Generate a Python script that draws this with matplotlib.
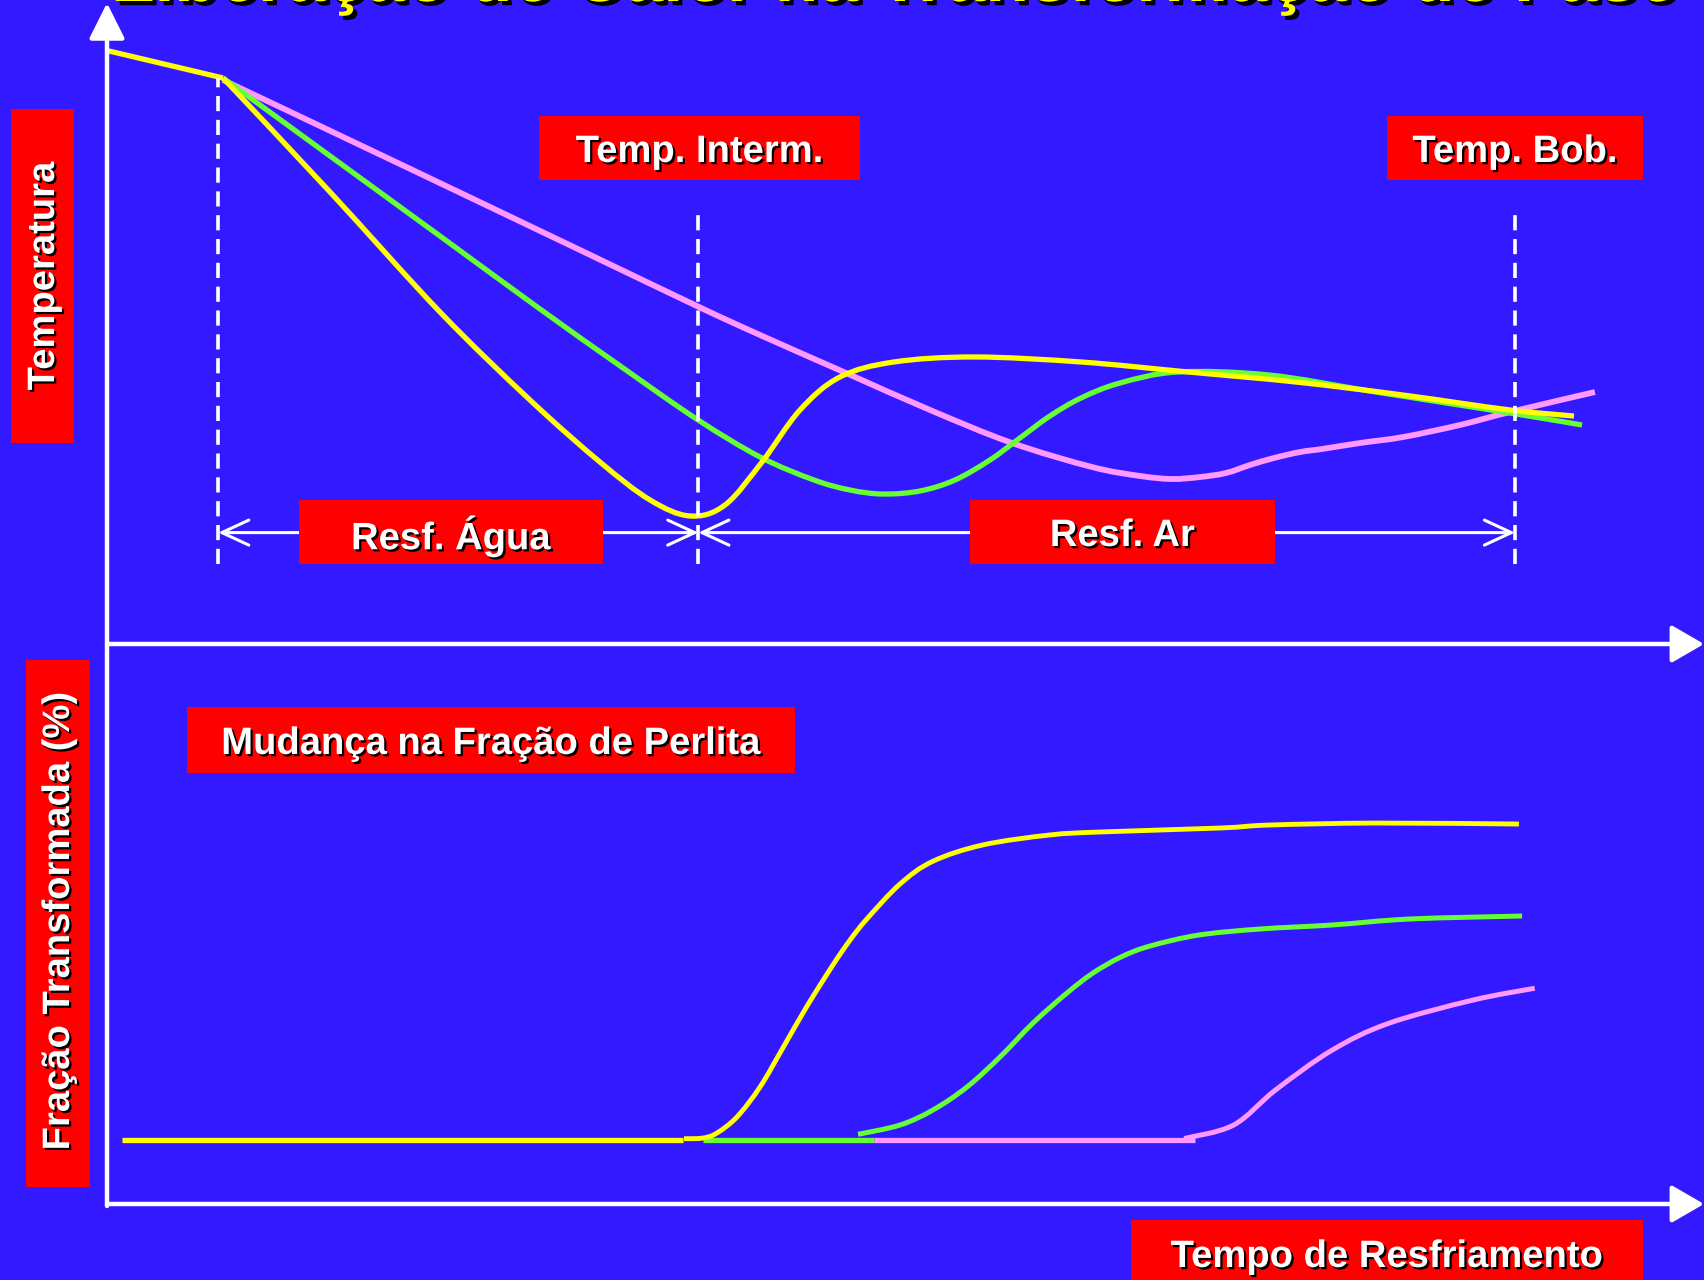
import numpy as np
import matplotlib
matplotlib.use("Agg")
import matplotlib.pyplot as plt
from matplotlib.path import Path
from matplotlib.patches import PathPatch, Rectangle
import matplotlib.patheffects as pe

# ---------------- data ----------------
# Upper panel: temperature (relative units) versus cooling time (relative units).
# The first yellow point is the common start before water cooling.
temp_yellow_t = [0.1, 8.24, 15.84, 23.65, 30.04, 35.01, 38.57, 41.41, 43.89, 46.52,
                 49.22, 52.06, 55.89, 61.58, 69.18, 76.78, 84.45, 92.05, 99.64, 104.19]
temp_yellow_T = [92.1, 87.89, 70.19, 51.55, 37.89, 28.26, 22.36, 19.88, 21.58, 28.26,
                 36.34, 41.46, 43.79, 44.57, 43.79, 42.24, 40.68, 38.66, 36.34, 35.40]

temp_green_t = [8.24, 15.84, 23.65, 30.75, 36.43, 41.90, 46.38, 50.21, 52.77, 55.11,
                57.74, 60.23, 62.71, 64.84, 66.97, 69.18, 71.95, 76.07, 82.53, 90.13,
                99.64, 104.76]
temp_green_T = [87.89, 75.78, 63.35, 52.02, 43.2, 34.9, 29.04, 25.47, 23.91, 23.29,
                23.76, 25.47, 28.57, 31.99, 35.40, 38.20, 40.53, 42.24, 41.77, 39.13,
                35.87, 34.01]

temp_pink_t = [8.24, 20.81, 33.59, 41.90, 46.38, 52.49, 58.45, 64.28, 69.96, 73.37,
               75.64, 77.63, 79.47, 81.18, 82.88, 84.73, 86.29, 88.99, 92.05, 96.09,
               99.64, 105.68]
temp_pink_T = [87.58, 74.53, 61.18, 52.48, 47.98, 42.08, 36.34, 31.21, 27.48, 26.09,
               25.62, 25.93, 26.55, 27.80, 28.88, 29.81, 30.28, 31.21, 32.14, 34.01,
               36.02, 39.13]

# Lower panel: transformed pearlite fraction (%) versus cooling time.
# Untransformed stretch (fraction 0) for each series: start and end times
base_yellow = [1.1, 40.9]
base_green = [42.35, 54.5]
base_pink = [54.5, 77.3]

frac_yellow_t = [40.98, 42.33, 43.32, 44.74, 46.38, 48.01, 49.72, 51.56, 52.77, 53.98,
                 56.32, 58.66, 62.22, 66.97, 70.53, 79.05, 82.53, 90.06, 100.28]
frac_yellow_F = [0.26, 0.40, 1.41, 4.64, 10.69, 18.6, 27.0, 35.3, 40.3, 44.6,
                 51.6, 56.2, 59.5, 61.5, 62.1, 62.9, 63.5, 63.9, 63.7]

frac_green_t = [53.34, 56.32, 58.66, 61.08, 63.42, 65.77, 68.18, 70.03, 72.02, 74.08,
                77.56, 81.89, 87.00, 92.54, 100.50]
frac_green_F = [1.15, 3.02, 6.05, 10.69, 16.73, 23.59, 29.64, 33.67, 36.90, 39.11,
                41.33, 42.54, 43.35, 44.56, 45.16]

frac_pink_t = [76.5, 80.0, 83.0, 87.0, 91.0, 97.0, 101.4]
frac_pink_F = [0.3, 3.0, 10.1, 18.1, 23.5, 28.2, 30.6]

# Process stages: start of water cooling, intermediate temperature, coiling temperature
stage_times = [7.9, 42.0, 100.0]
stage_top_T = [87.9, 67.1, 67.1]
stage_bottom_T = 12.4
span_T = 17.3

title = "Liberação de Calor na Transformação de Fase"

# ---------------- style ----------------
BG = "#3319FF"
YELLOW = "#FFFF00"
GREEN = "#66FF33"
PINK = "#FF99FF"
RED = "#FF0000"
FONT = ["Liberation Sans", "DejaVu Sans"]
LABEL_SIZE = 27.5

W, H = 1704, 1280
fig = plt.figure(figsize=(W / 100, H / 100), dpi=100, facecolor=BG)


def smooth(ax, xs, ys, color, lw=3.8, z=3):
    """Draw a smooth curve through the given points (Catmull-Rom as cubic Bezier)."""
    pts = np.column_stack([xs, ys]).astype(float)
    P = np.vstack([pts[0], pts, pts[-1]])
    verts = [pts[0]]
    codes = [Path.MOVETO]
    for i in range(1, len(P) - 2):
        p0, p1, p2, p3 = P[i - 1], P[i], P[i + 1], P[i + 2]
        verts += [p1 + (p2 - p0) / 6.0, p2 - (p3 - p1) / 6.0, p2]
        codes += [Path.CURVE4] * 3
    ax.add_patch(PathPatch(Path(verts, codes), fill=False, edgecolor=color,
                           lw=lw, capstyle="butt", joinstyle="round", zorder=z))


# time axis: 0 at the vertical axis, 100 at coiling temperature
x0_px, px_per_t = 107, 14.08
t_max = (W - x0_px) / px_per_t

# upper panel (temperature)
ax_top = fig.add_axes([x0_px / W, (H - 644) / H, (W - x0_px) / W, 644 / H])
ax_top.set_xlim(0, t_max)
ax_top.set_ylim(0, 100)
ax_top.axis("off")

smooth(ax_top, temp_pink_t, temp_pink_T, PINK, lw=4.2)
smooth(ax_top, temp_green_t, temp_green_T, GREEN)
# yellow: straight lead-in, then the water-cooling curve from the corner on
ax_top.plot(temp_yellow_t[:2], temp_yellow_T[:2], color=YELLOW, lw=3.8,
            solid_capstyle="butt", zorder=3)
smooth(ax_top, temp_yellow_t[1:], temp_yellow_T[1:], YELLOW)

for t, top in zip(stage_times, stage_top_T):
    ax_top.plot([t, t], [stage_bottom_T, top], color="white", lw=2.6,
                dashes=(4.2, 2.4), zorder=5)

for a, b in [(stage_times[0], stage_times[1]), (stage_times[1], stage_times[2])]:
    ax_top.annotate("", xy=(a, span_T), xytext=(b, span_T),
                    arrowprops=dict(arrowstyle="<->,head_length=0.97,head_width=0.45",
                                    mutation_scale=20, lw=2.2, color="white",
                                    shrinkA=0, shrinkB=0), zorder=4)

# lower panel (transformed fraction)
ax_bot = fig.add_axes([x0_px / W, (H - 1204) / H, (W - x0_px) / W, 560 / H])
ax_bot.set_xlim(0, t_max)
ax_bot.set_ylim(-12.9, 100)
ax_bot.axis("off")

for base, color in [(base_yellow, YELLOW), (base_green, GREEN), (base_pink, PINK)]:
    ax_bot.plot(base, [0, 0], color=color, lw=3.8, solid_capstyle="butt", zorder=3)

smooth(ax_bot, frac_yellow_t, frac_yellow_F, YELLOW, lw=3.5)
smooth(ax_bot, frac_green_t, frac_green_F, GREEN, lw=3.6)
smooth(ax_bot, frac_pink_t, frac_pink_F, PINK, lw=3.6)

# decorations in pixel space: axis arrows and label boxes
deco = fig.add_axes([0, 0, 1, 1])
deco.set_xlim(0, W)
deco.set_ylim(H, 0)
deco.axis("off")
deco.patch.set_alpha(0)

arrow_kw = dict(mutation_scale=20, lw=3.2, color="white", shrinkA=0, shrinkB=0)
deco.annotate("", xy=(107, 3), xytext=(107, 1206),
              arrowprops=dict(arrowstyle="-|>,head_length=1.1,head_width=0.55", **arrow_kw))
for yy in (644, 1204):
    deco.annotate("", xy=(W, yy), xytext=(107, yy),
                  arrowprops=dict(arrowstyle="-|>,head_length=1.0,head_width=0.58", **arrow_kw))

shadow = [pe.withSimplePatchShadow(offset=(1.6, -1.6), shadow_rgbFace="black", alpha=1.0)]


def label_box(x0, y0, x1, y1, text, rotation=0, cx=None, cy=None):
    deco.add_patch(Rectangle((x0, y0), x1 - x0, y1 - y0, facecolor=RED,
                             edgecolor="none", zorder=6))
    cx = (x0 + x1) / 2 if cx is None else cx
    cy = (y0 + y1) / 2 if cy is None else cy
    deco.text(cx, cy, text, color="white", fontsize=LABEL_SIZE,
              fontweight="bold", family=FONT, ha="center",
              va="center" if rotation else "center_baseline",
              rotation=rotation, path_effects=shadow, zorder=7)


label_box(539, 116, 860, 180, "Temp. Interm.")
label_box(1387, 116, 1643, 180, "Temp. Bob.")
label_box(299, 500, 603, 564, "Resf. Água")
label_box(970, 500, 1275, 564, "Resf. Ar")
label_box(187, 707, 795, 773, "Mudança na Fração de Perlita")
label_box(11, 109, 74, 443, "Temperatura", rotation=90, cx=44, cy=276)
label_box(26, 660, 90, 1187, "Fração Transformada (%)", rotation=90, cx=59, cy=921)
label_box(1131, 1220, 1643, 1290, "Tempo de Resfriamento", cy=1253)

# slide title, running off the top edge
fig.text(0.5246, 1 - 1 / H, title, color=YELLOW, fontsize=51.5, fontweight="bold",
         family=FONT, ha="center", va="baseline",
         path_effects=[pe.withSimplePatchShadow(offset=(3, -3), shadow_rgbFace="black",
                                                alpha=1.0)])

fig.savefig("out.png", dpi=100, facecolor=BG)
